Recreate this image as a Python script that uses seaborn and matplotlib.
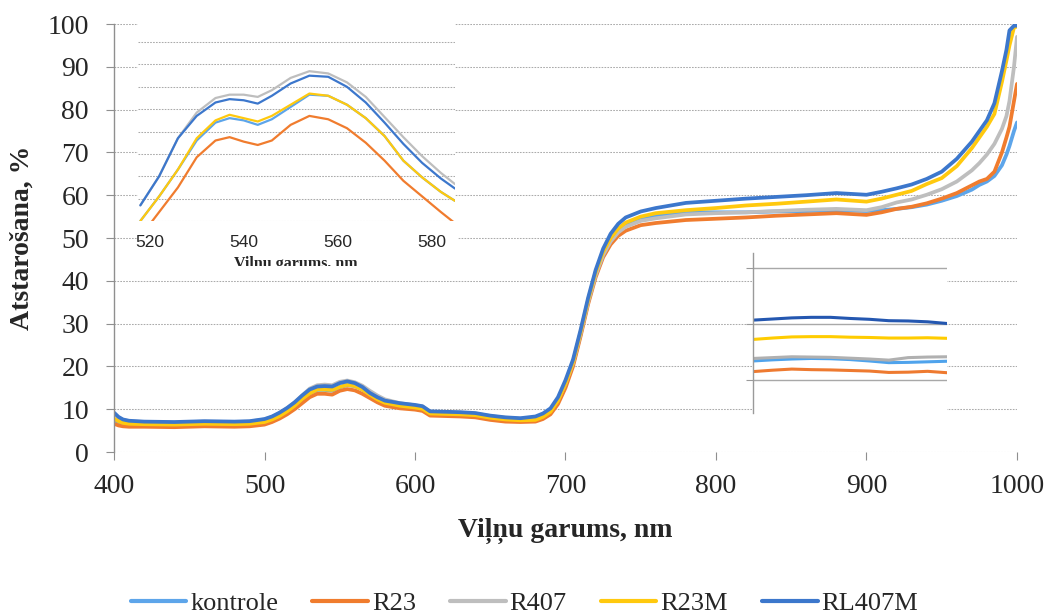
import numpy as np
import pandas as pd
import matplotlib
matplotlib.use("Agg")
import matplotlib.pyplot as plt
import seaborn as sns
from matplotlib.lines import Line2D
from matplotlib.patches import Rectangle
from matplotlib.transforms import Bbox, TransformedBbox

# ---------------- data ----------------
series_names = ["kontrole", "R23", "R407", "R23M", "RL407M"]

wavelength = [400, 403, 406, 410, 420, 440, 460, 480, 490, 500, 505, 510, 515, 520, 525,
              530, 535, 540, 545, 550, 555, 560, 565, 570, 575, 580, 590, 600, 605, 610,
              620, 630, 640, 650, 660, 670, 680, 685, 690, 695, 700, 705, 710, 715, 720,
              725, 730, 735, 740, 750, 760, 780, 800, 820, 840, 860, 880, 900, 910, 920,
              930, 940, 950, 960, 970, 975, 980, 985, 990, 993, 995, 998, 1000]

kontrole = [7.5, 7.0, 6.7, 6.5, 6.4, 6.3, 6.5, 6.4, 6.5, 6.9, 7.5, 8.3, 9.4, 10.7, 12.3,
            13.6, 14.5, 14.5, 14.3, 15.1, 15.65, 15.4, 14.6, 13.4, 12.3, 11.5, 10.7, 10.3, 10.0, 8.9,
            8.8, 8.7, 8.5, 7.9, 7.5, 7.3,
            7.5, 8.1, 9.2, 11.7, 15.5, 20.5, 27.5, 35.0, 41.5, 46.3, 49.7, 51.9, 53.2, 54.6,
            55.3, 56.0, 56.0, 56.0, 56.2, 56.3, 56.5, 56.3, 56.5, 56.8, 57.2, 57.8, 58.7, 59.8,
            61.3, 62.4, 63.2, 64.5, 67.0, 69.5, 71.5, 75.0, 77.0]

R23 = [6.6, 6.2, 6.0, 5.9, 5.9, 5.8, 6.0, 5.9, 6.0, 6.4, 7.0, 7.8, 8.8, 10.0, 11.4,
       12.8, 13.6, 13.6, 13.4, 14.3, 14.7, 14.4, 13.6, 12.6, 11.6, 10.8, 10.2, 9.9, 9.6, 8.5,
       8.4, 8.3, 8.1, 7.5, 7.1, 7.0,
       7.1, 7.7, 8.8, 11.2, 15.0, 20.0, 27.0, 34.5, 40.8, 45.5, 48.5, 50.5, 51.7, 53.0,
       53.5, 54.2, 54.5, 54.8, 55.2, 55.5, 55.8, 55.4, 56.0, 56.8, 57.3, 58.1, 59.2, 60.5,
       62.3, 63.2, 63.8, 65.5, 70.0, 73.5, 76.0, 82.0, 86.0]

R407 = [9.0, 8.0, 7.5, 7.2, 7.0, 6.9, 7.1, 7.0, 7.1, 7.6, 8.2, 9.1, 10.2, 11.6, 13.2,
        14.8, 15.6, 15.75, 15.6, 16.4, 16.7, 16.3, 15.5, 14.3, 13.2, 12.3, 11.4, 10.9, 10.6, 9.4,
        9.3, 9.2, 9.0, 8.4, 8.0, 7.8,
        8.0, 8.7, 9.8, 12.2, 16.0, 20.8, 27.6, 35.0, 41.3, 46.0, 49.2, 51.3, 52.6, 54.0,
        54.6, 55.5, 55.8, 56.0, 56.3, 56.6, 56.8, 56.5, 57.2, 58.3, 59.0, 60.1, 61.4, 63.2,
        65.8, 67.5, 69.5, 72.0, 75.5, 78.5, 82.0, 90.0, 97.0]

R23M = [7.8, 7.2, 6.8, 6.6, 6.5, 6.4, 6.6, 6.5, 6.6, 7.0, 7.6, 8.4, 9.5, 10.8, 12.4,
        13.7, 14.6, 14.6, 14.5, 15.2, 15.7, 15.4, 14.6, 13.4, 12.3, 11.5, 10.8, 10.4, 10.1, 9.0,
        8.9, 8.8, 8.6, 8.0, 7.6, 7.4,
        7.5, 8.2, 9.4, 12.0, 16.0, 21.0, 28.0, 35.5, 42.0, 46.8, 50.0, 52.2, 53.6, 55.0,
        55.8, 56.5, 57.0, 57.6, 58.0, 58.5, 59.0, 58.5, 59.2, 60.1, 61.0, 62.6, 64.0, 66.8,
        71.0, 73.5, 76.0, 79.0, 86.5, 91.5, 95.0, 99.2, 99.4]

RL407M = [9.2, 8.2, 7.6, 7.3, 7.1, 7.0, 7.2, 7.1, 7.2, 7.7, 8.3, 9.2, 10.3, 11.6, 13.2,
          14.6, 15.3, 15.4, 15.3, 16.1, 16.5, 16.1, 15.2, 13.8, 12.8, 12.0, 11.4, 11.0, 10.7, 9.5,
          9.4, 9.3, 9.1, 8.5, 8.1, 7.9,
          8.3, 9.0, 10.2, 12.8, 16.8, 21.6, 28.5, 36.0, 42.5, 47.5, 51.0, 53.3, 54.8, 56.2,
          57.0, 58.2, 58.7, 59.2, 59.6, 60.0, 60.5, 60.1, 60.8, 61.6, 62.5, 63.8, 65.5, 68.5,
          72.5, 75.0, 77.5, 81.5, 89.0, 94.0, 98.5, 99.6, 99.6]

# zoomed inset (green peak)
inset_wl = [518, 522, 526, 530, 534, 537, 540, 543, 546, 550, 554, 558, 562, 566, 570, 574, 578, 582, 585]
inset_kontrole = [10.0, 11.1, 12.3, 13.6, 14.4, 14.6, 14.5, 14.3, 14.55, 15.1, 15.65, 15.6, 15.2, 14.6, 13.8, 12.7, 11.95, 11.3, 10.9]
inset_R23 = [9.3, 10.4, 11.5, 12.85, 13.6, 13.75, 13.55, 13.4, 13.6, 14.3, 14.7, 14.55, 14.15, 13.5, 12.7, 11.8, 11.1, 10.4, 9.9]
inset_R407 = [10.7, 12.0, 13.7, 14.85, 15.5, 15.65, 15.65, 15.55, 15.85, 16.4, 16.7, 16.6, 16.2, 15.55, 14.65, 13.75, 12.9, 12.15, 11.65]
inset_R23M = [10.0, 11.1, 12.3, 13.7, 14.5, 14.75, 14.6, 14.45, 14.7, 15.2, 15.7, 15.6, 15.2, 14.6, 13.8, 12.7, 11.95, 11.3, 10.9]
inset_RL407M = [10.7, 12.0, 13.7, 14.7, 15.3, 15.45, 15.4, 15.25, 15.6, 16.15, 16.5, 16.45, 16.0, 15.3, 14.4, 13.45, 12.6, 11.9, 11.45]

# zoomed inset (plateau)
plat_wl = [800, 810, 820, 830, 840, 850, 860, 870, 880, 890, 900]
plat_kontrole = [54.68, 54.72, 54.75, 54.77, 54.76, 54.73, 54.68, 54.62, 54.63, 54.65, 54.67]
plat_R23 = [54.3, 54.35, 54.39, 54.37, 54.36, 54.34, 54.32, 54.27, 54.28, 54.31, 54.26]
plat_R407 = [54.77, 54.8, 54.83, 54.82, 54.81, 54.78, 54.75, 54.71, 54.8, 54.82, 54.83]
plat_R23M = [55.45, 55.5, 55.54, 55.55, 55.55, 55.53, 55.52, 55.5, 55.5, 55.51, 55.49]
plat_RL407M = [56.14, 56.18, 56.22, 56.24, 56.24, 56.2, 56.17, 56.12, 56.11, 56.08, 56.02]

xticks_main = [400, 500, 600, 700, 800, 900, 1000]
yticks_main = list(range(0, 101, 10))
xticks_inset = [520, 540, 560, 580]
yticks_inset = list(range(10, 19))
yticks_plat = [54, 56, 58]

colors = {"kontrole": "#5DA5EA", "R23": "#F07C2E", "R407": "#BEBEBE",
          "R23M": "#FFC90E", "RL407M": "#3C77CC"}
plat_colors = {"kontrole": "#4FA3EC", "R23": "#EE7A30", "R407": "#B0B0B0",
               "R23M": "#FFCC00", "RL407M": "#2457B0"}


def long_df(x, cols):
    frames = []
    for name, vals in zip(series_names, cols):
        assert len(vals) == len(x), name
        frames.append(pd.DataFrame({"x": x, "y": vals, "series": name}))
    return pd.concat(frames, ignore_index=True)


df_main = long_df(wavelength, [kontrole, R23, R407, R23M, RL407M])
df_in = long_df(inset_wl, [inset_kontrole, inset_R23, inset_R407, inset_R23M, inset_RL407M])
df_pl = long_df(plat_wl, [plat_kontrole, plat_R23, plat_R407, plat_R23M, plat_RL407M])

# ---------------- style ----------------
sns.set_theme(style="white")
plt.rcParams["font.family"] = ["Liberation Serif", "DejaVu Serif"]

W, H = 1049, 615
fig = plt.figure(figsize=(W / 100, H / 100), dpi=100)
fig.patch.set_facecolor("white")


def fx(px):
    return px / W


def fy(py):
    return 1 - py / H


grid_kw = dict(color="#ababab", linestyle=(0, (1.6, 1.2)), linewidth=0.75)

ax = fig.add_axes([fx(114), fy(452), fx(1017) - fx(114), fy(24) - fy(452)])
ax.set_zorder(0)
sns.lineplot(data=df_main, x="x", y="y", hue="series", hue_order=series_names,
             palette=colors, linewidth=2.7, legend=False, sort=False,
             estimator=None, ax=ax)
ax.set_xlim(400, 1000)
ax.set_ylim(0, 100)
ax.set_xticks(xticks_main)
ax.set_yticks(yticks_main)
ax.yaxis.grid(True, **grid_kw)
ax.xaxis.grid(False)
ax.set_axisbelow(True)
for s in ["top", "right", "bottom"]:
    ax.spines[s].set_visible(False)
ax.spines["left"].set_color("#8f8f8f")
ax.spines["left"].set_linewidth(1.0)
ax.tick_params(axis="y", direction="out", length=6, width=0.8, color="#8f8f8f",
               labelsize=20, pad=12, left=True)
ax.tick_params(axis="x", direction="out", length=6, width=0.8, color="#8f8f8f",
               labelsize=20, pad=10, bottom=True)
ax.set_xlabel("")
ax.set_ylabel("")

fig.text(fx(565), fy(531), "Viļņu garums, nm", ha="center", va="center",
         fontsize=20, fontweight="bold")
fig.text(fx(22), fy(238), "Atstarošana, %", ha="center", va="center",
         rotation=90, fontsize=20, fontweight="bold")

# ---------------- inset 1: green peak ----------------
fig.add_artist(Rectangle((fx(137), fy(268)), fx(458) - fx(137), fy(221) - fy(268),
                         transform=fig.transFigure, facecolor="white",
                         edgecolor="none", zorder=0.5))
ax1 = fig.add_axes([fx(138), fy(221), fx(455) - fx(138), fy(22) - fy(221)])
ax1.set_zorder(1)
ax1.set_facecolor("white")
sns.lineplot(data=df_in, x="x", y="y", hue="series", hue_order=series_names,
             palette=colors, linewidth=1.6, legend=False, sort=False,
             estimator=None, ax=ax1)
ax1.set_xlim(517.5, 585)
ax1.set_ylim(10, 18.9)
ax1.set_yticks(yticks_inset)
ax1.set_yticklabels([])
ax1.set_xticks(xticks_inset)
ax1.yaxis.grid(True, **grid_kw)
ax1.xaxis.grid(False)
ax1.set_axisbelow(True)
for s in ax1.spines.values():
    s.set_visible(False)
ax1.tick_params(axis="y", length=0)
ax1.tick_params(axis="x", length=0, pad=10, labelsize=12.5)
for lab in ax1.get_xticklabels():
    lab.set_family(["Liberation Sans", "DejaVu Sans"])
ax1.set_xlabel("")
ax1.set_ylabel("")
t = fig.text(fx(296), fy(256), "Viļņu garums, nm", ha="center", va="top",
             fontsize=11.5, fontweight="bold")
t.set_clip_box(TransformedBbox(Bbox.from_extents(fx(100), fy(266), fx(500), fy(240)),
                               fig.transFigure))
t.set_clip_on(True)

# ---------------- inset 2: plateau ----------------
ax2 = fig.add_axes([fx(753), fy(413), fx(947) - fx(753), fy(253) - fy(413)])
ax2.set_zorder(1)
ax2.set_facecolor("white")
sns.lineplot(data=df_pl, x="x", y="y", hue="series", hue_order=series_names,
             palette=plat_colors, linewidth=2.2, legend=False, sort=False,
             estimator=None, ax=ax2)
ax2.set_xlim(800, 900)
ax2.set_ylim(52.82, 58.54)
ax2.hlines(yticks_plat, 800, 900, colors="#a8a8a8", linewidth=1.0, zorder=1.5)
ax2.set_yticks(yticks_plat)
ax2.set_yticklabels([])
ax2.tick_params(axis="x", bottom=False, labelbottom=False)
ax2.grid(False)
for s in ["top", "right", "bottom"]:
    ax2.spines[s].set_visible(False)
ax2.spines["left"].set_color("#9a9a9a")
ax2.spines["left"].set_linewidth(1.0)
ax2.tick_params(axis="y", direction="out", length=5, width=0.8, color="#9a9a9a", left=True)
ax2.set_xlabel("")
ax2.set_ylabel("")

# ---------------- legend ----------------
handles = [Line2D([0], [0], color=colors[n], lw=3) for n in series_names]
fig.legend(handles, series_names, loc="center", bbox_to_anchor=(0.5, fy(603)),
           ncol=5, frameon=False, fontsize=19, handlelength=2.1,
           handletextpad=0.15, columnspacing=1.3)

fig.savefig("out.png", dpi=100, facecolor="white")
